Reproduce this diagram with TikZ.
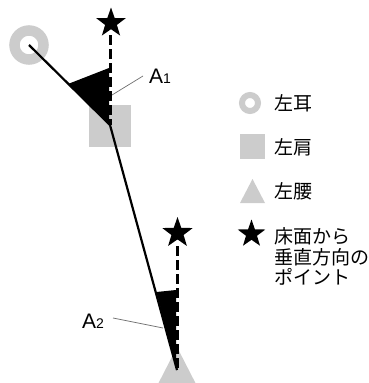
\documentclass[tikz,border=0pt]{standalone}
\usepackage{fontspec}
\setmainfont{Liberation Sans}
\newfontfamily\jpfont{Noto Sans CJK JP}
\usetikzlibrary{shapes.geometric}
\definecolor{lg}{RGB}{204,204,204}
\definecolor{leadc}{RGB}{110,110,110}
\tikzset{
  body/.style={line width=2.2pt, black},
  vdash/.style={line width=3pt, black, dash pattern=on 10pt off 4pt},
  wedge/.style={fill=black, draw=none},
  starmark/.style={star, star points=5, star point ratio=2.5, fill=black, draw=none, inner sep=0pt},
  leader/.style={line width=0.7pt, leadc},
  jp/.style={font=\jpfont\fontsize{19}{20.5}\selectfont, inner sep=0pt, anchor=west, align=left},
  alabel/.style={inner sep=0pt, anchor=base west},
}
\newcommand{\alab}[1]{{\fontsize{21}{21}\selectfont A}{\fontsize{14}{14}\selectfont #1}}
\begin{document}
\begin{tikzpicture}[x=1pt,y=-1pt]
\useasboundingbox (0,0) rectangle (368,383);
\begin{scope}
\clip (0,0) rectangle (368,383);
% key points
\coordinate (ear) at (29,45);
\coordinate (sh) at (110,125);
\coordinate (hip) at (177,370);
% shoulder square
\fill[lg] (89,105) rectangle (131,147);
% hip triangle
\fill[lg] (177,347) -- (198,388) -- (156,388) -- cycle;
% ear ring
\draw[lg, line width=10.5pt] (ear) circle (14.5);
% wedges
\fill[wedge] (sh) -- (68,84) -- (109,68) -- (109,125) -- cycle;
\fill[wedge] (hip) -- (156.5,292) -- (176,290) -- (176,370) -- cycle;
% stars
\node[starmark, minimum size=31pt] (s1) at (111,23) {};
\node[starmark, minimum size=32pt] (s2) at (177.5,233) {};
% dashed verticals
\coordinate (s1b) at (110,35);
\coordinate (s2b) at (177,246);
\draw[vdash] (s1b) -- (sh);
\draw[vdash] (s2b) -- (hip);
% body line
\draw[body, line join=miter] (ear) -- (sh) -- (hip);
% labels
\node[alabel] (a1) at (149,83) {\alab{1}};
\node[alabel] (a2) at (82,328) {\alab{2}};
\coordinate (a1s) at (143,76);
\coordinate (a1e) at (112,95);
\coordinate (a2s) at (113,318);
\coordinate (a2e) at (163,328);
\draw[leader] (a1s) -- (a1e);
\draw[leader] (a2s) -- (a2e);
\end{scope}
% legend
\draw[lg, line width=6pt] (250,103) circle (8);
\node[jp] (l1) at (274,103) {左耳};
\fill[lg] (240,134) rectangle (265,159);
\node[jp] (l2) at (274,147) {左肩};
\fill[lg] (252.5,179) -- (265,203) -- (240,203) -- cycle;
\node[jp] (l3) at (274,191) {左腰};
\node[starmark, minimum size=29pt] (l4s) at (251.5,234) {};
\node[jp] (l4) at (274,256.5) {床面から\\垂直方向の\\ポイント};
\end{tikzpicture}
\end{document}
